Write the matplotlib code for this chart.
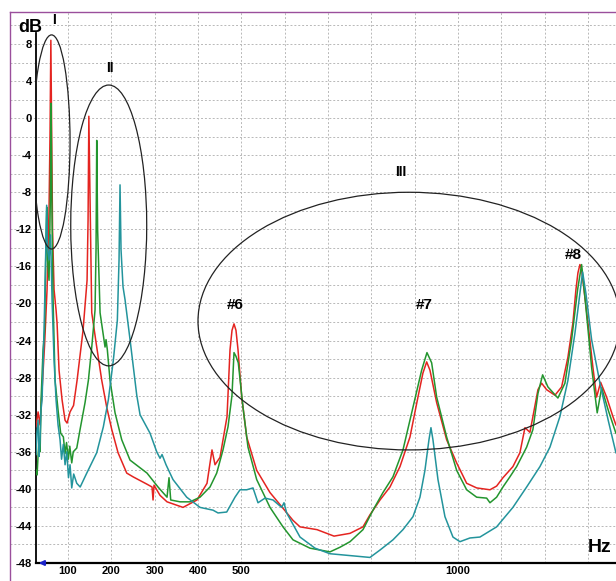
import matplotlib
matplotlib.use('Agg')
import matplotlib.pyplot as plt
from matplotlib.patches import Ellipse
from matplotlib.lines import Line2D

plt.rcParams['font.family'] = ['Liberation Sans', 'DejaVu Sans']
plt.rcParams['axes.unicode_minus'] = False

# --- data (Hz, dB) ---
red_hz = [26.1, 30.8, 35.4, 40.0, 45.8, 51.5, 56.1, 58.5, 60.3, 62.1, 64.2, 67.7, 72.3, 74.6,
          79.2, 86.2, 93.1, 97.7, 104.6, 112.7, 120.8, 134.6, 143.9, 146.2, 148.0, 150.8, 154.7,
          166.2, 177.8, 189.3, 200.9, 215.4, 235.5, 250, 282.3, 293.9, 296.2, 298.5, 312.3, 328.5,
          365.4, 397.7, 420.8, 432.3, 439.3, 450.8, 467, 473.9, 478.5, 483.1, 487.7, 492.4, 500.9,
          512.4, 535.5, 566.2, 619.3, 635.5, 674.7, 714, 750.9, 780.9, 797, 820.2, 843.2, 866.3,
          889.4, 907.8, 919.3, 927.9, 935.5, 951, 974, 997.1, 1020.2, 1043.3, 1074, 1089.4, 1104,
          1127, 1143.2, 1154.8, 1166.3, 1173.2, 1184.8, 1193.3, 1204.8, 1224, 1239.5, 1254,
          1265.5, 1272.5, 1277.1, 1281.7, 1285.2, 1288.6, 1300.2, 1311.7, 1320.2, 1329.5, 1343.3,
          1357.9, 1364.8]
red_db = [-33.3, -31.7, -33.1, -29.3, -24.5, -18.5, -9.9, -1.3, 8.4, -1.3, -12.1, -18.5, -20.7,
          -22.1, -27.2, -30.4, -32.6, -32.9, -31.7, -31.0, -28.3, -22.9, -17.5, -11.0, 0.2, -8.8,
          -21.0, -24.7, -28.3, -31.2, -33.6, -36.1, -38.3, -38.7, -39.5, -39.8, -41.2, -39.6, -40.7,
          -41.4, -42.0, -41.2, -39.4, -35.8, -37.4, -36.6, -32.2, -25.0, -22.9, -22.2, -22.9, -25.0,
          -30.1, -34.4, -38.0, -40.4, -43.4, -44.1, -44.4, -45.1, -44.8, -44.1, -42.8, -41.2, -39.8,
          -37.6, -34.4, -30.1, -27.5, -26.3, -27.2, -30.7, -34.7, -37.2, -39.4, -39.9, -40.1, -39.7,
          -38.8, -37.6, -36.1, -33.4, -33.9, -32.2, -29.3, -28.6, -29.3, -29.9, -29.0, -25.8,
          -22.1, -18.5, -16.7, -15.8, -16.2, -17.5, -22.1, -26.9, -30.1, -28.5, -30.1, -32.2, -33.1]

green_hz = [26.1, 28.5, 31.0, 33.1, 35.5, 37.7, 42.3, 45.8, 49.2, 50.8, 52.7, 56.1, 59.1, 60.8,
            62.6, 65.4, 70.0, 77.6, 83.0, 89.2, 93.0, 96.5, 100.7, 104.0, 108.5, 112.0, 120.1,
            127.7, 139.2, 146.9, 154.7, 162.3, 164.6, 166.2, 168.3, 173.9, 185.4, 187.7, 190.7,
            196.9, 208.5, 223.9, 243.1, 282.3, 307.7, 328.5, 333.1, 337, 358.5, 381.6, 404.7,
            427.7, 443.2, 457.7, 469.3, 478.5, 483.1, 487.7, 493, 503.9, 515.4, 535.5, 566.2,
            596.2, 619.3, 658.5, 704.7, 727.8, 750.9, 780.9, 804, 827, 850.1, 873.2, 896.3, 916.3,
            928.6, 939.4, 951, 974, 997.1, 1020.2, 1043.3, 1066.4, 1074, 1089.4, 1104, 1120.1,
            1135.6, 1158.7, 1173.2, 1184.8, 1195.6, 1207.8, 1230.9, 1247.1, 1262.5, 1276.4,
            1285.6, 1295.5, 1308.7, 1321.6, 1331.8, 1347, 1364.8]
green_db = [-38.0, -38.5, -36.2, -34.7, -36.0, -30.4, -25.0, -22.9, -13.1, -9.6, -15.3, -17.5,
            -8.8, 1.6, -8.8, -19.6, -28.3, -31.8, -34.0, -34.4, -36.2, -35.0, -36.8, -35.4,
            -37.2, -36.0, -35.6, -33.6, -30.7, -28.3, -24.7, -20.7, -14.2, -2.4, -12.1, -21.0,
            -24.7, -23.9, -25.0, -28.3, -31.8, -34.7, -36.9, -38.3, -39.8, -40.9, -38.8, -41.2,
            -41.4, -41.4, -40.9, -39.8, -38.3, -35.8, -33.3, -29.9, -25.3, -25.7, -26.4, -31.2,
            -35.5, -39.0, -42.0, -44.1, -45.5, -46.4, -46.8, -46.3, -45.7, -44.4, -42.3, -40.4,
            -38.7, -35.8, -31.2, -27.2, -25.3, -26.4, -30.1, -34.4, -38.0, -40.1, -40.9, -41.0,
            -41.5, -40.9, -39.8, -38.7, -37.6, -35.5, -33.6, -29.7, -27.7, -29.0, -30.2, -28.6,
            -23.9, -18.5, -15.8, -20.4, -26.9, -31.8, -29.1, -31.5, -34.0]

teal_hz = [26.1, 28.0, 30.8, 33.0, 35.4, 37.5, 40.0, 44.6, 48.1, 50.6, 52.7, 56.1, 59.6, 63.1,
           67.7, 72.3, 76.9, 81.5, 85.0, 89.0, 93.1, 97.0, 101.0, 104.6, 108.5, 113.0, 120.1,
           128.0, 143.2, 166.2, 181.5, 193, 204.6, 213.8, 217.7, 220, 222.3, 226.9, 231.6, 243.1,
           258.6, 266.2, 289.3, 304.7, 312.3, 317, 326.2, 342.3, 373.9, 404.7, 434.7, 446.2,
           466.3, 485.4, 497, 512.4, 527, 538.5, 554.7, 573.1, 593.2, 598.5, 604.7, 635.5, 670.1,
           704.7, 750.9, 797, 820.2, 850.1, 873.2, 896.3, 912.4, 923.9, 933.2, 937.8, 942.4, 954,
           970.1, 988.6, 1004.7, 1027.8, 1050.9, 1089.4, 1127, 1158.7, 1189.4, 1212.5, 1235.5,
           1254, 1270.2, 1281.7, 1287.9, 1295.5, 1308.7, 1327.9, 1347, 1364.8]
teal_db = [-36.3, -34.0, -32.6, -36.5, -34.7, -31.5, -30.4, -22.9, -15.3, -9.4, -14.2, -15.3,
           -12.6, -19.6, -26.1, -30.4, -33.1, -34.7, -36.8, -35.2, -37.4, -36.0, -38.8, -37.4,
           -39.9, -38.4, -39.4, -39.8, -38.3, -36.1, -33.3, -30.4, -26.1, -21.8, -15.3, -7.2,
           -14.2, -18.2, -19.6, -23.9, -29.9, -32.0, -34.0, -36.0, -36.7, -36.3, -37.4, -39.0,
           -40.9, -42.0, -42.3, -42.6, -42.5, -40.9, -40.1, -40.1, -39.9, -41.5, -41.0, -41.2,
           -42.0, -41.5, -42.6, -45.2, -46.4, -47.0, -47.2, -47.4, -46.6, -45.5, -44.4, -43.0,
           -40.9, -38.0, -34.7, -33.4, -34.7, -39.0, -43.0, -45.2, -45.7, -45.3, -45.2, -44.1,
           -42.0, -39.8, -37.6, -35.5, -32.2, -28.3, -23.2, -18.9, -16.6, -18.9, -23.9, -28.6,
           -32.6, -36.1]

y_ticks = list(range(-48, 9, 4))
x_ticks = [100, 200, 300, 400, 500, 1000]

W, H = 616, 581
x_min, x_max = 26, 1365
y_min, y_max = -48, 11.45

fig = plt.figure(figsize=(W / 100, H / 100), dpi=100)
ax = fig.add_axes([36 / W, 1 - 563 / H, 580 / W, 551 / H])
ax.set_xlim(x_min, x_max)
ax.set_ylim(y_min, y_max)

# grid: dashed gray, horizontal lines run out to the purple frame
grid_kw = dict(color='#b8b8b8', linestyle=(0, (2, 2)), linewidth=0.7, zorder=0)
ax.hlines(range(-46, 11, 2), -34, x_max, clip_on=False, **grid_kw)
ax.vlines(range(100, 1400, 100), y_min, y_max, **grid_kw)

ax.plot(red_hz, red_db, color='#e42420', lw=1.1, zorder=3)
ax.plot(green_hz, green_db, color='#23952e', lw=1.1, zorder=4)
ax.plot(teal_hz, teal_db, color='#23949c', lw=1.1, zorder=5)

# regions I, II, III
ell_kw = dict(fill=False, edgecolor='#222222', lw=0.9, zorder=6)
ax.add_patch(Ellipse((61.9, -2.57), 85.4, 23.1, **ell_kw))
ax.add_patch(Ellipse((193.9, -11.58), 175.4, 30.3, **ell_kw))
ax.add_patch(Ellipse((887, -21.9), 974, 27.8, clip_on=False, **ell_kw))

# axes look
for s in ax.spines.values():
    s.set_visible(False)
ax.spines['left'].set_visible(True)
ax.spines['left'].set_bounds(y_min, 9.2)
ax.spines['left'].set_linewidth(1.3)
ax.spines['bottom'].set_visible(True)
ax.spines['bottom'].set_linewidth(1.6)

ax.set_yticks(y_ticks)
ax.set_yticklabels([str(v) for v in y_ticks], fontweight='bold')
ax.set_xticks(x_ticks)
ax.set_xticklabels([str(v) for v in x_ticks], fontweight='bold')
ax.tick_params(length=0, labelsize=8, pad=3)
ax.tick_params(axis='x', pad=2)

ax.annotate('', xy=(x_min, y_min), xytext=(49, y_min),
            arrowprops=dict(arrowstyle='-|>', color='#1a22c8', lw=1.5, mutation_scale=7),
            annotation_clip=False, zorder=7)


def fpos(x, y):
    return x / W, 1 - y / H


bold = dict(fontweight='bold', ha='center', va='center')
fig.text(*fpos(30, 27), 'dB', fontsize=13, **bold)
fig.text(*fpos(600, 548), 'Hz', fontsize=14, **bold)
fig.text(*fpos(54, 20), 'I', fontsize=10, **bold)
fig.text(*fpos(110, 68), 'II', fontsize=10, **bold)
fig.text(*fpos(401, 172), 'III', fontsize=10, **bold)
fig.text(*fpos(235, 305), '#6', fontsize=11, **bold)
fig.text(*fpos(424, 305), '#7', fontsize=11, **bold)
fig.text(*fpos(573, 255), '#8', fontsize=11, **bold)

# purple frame
frame = '#9a4f9c'
fig.add_artist(Line2D([10 / W, 1], [1 - 12 / H, 1 - 12 / H], color=frame, lw=1.0))
fig.add_artist(Line2D([10 / W, 10 / W], [0, 1 - 12 / H], color=frame, lw=1.0))

fig.savefig('out.png', dpi=100)
